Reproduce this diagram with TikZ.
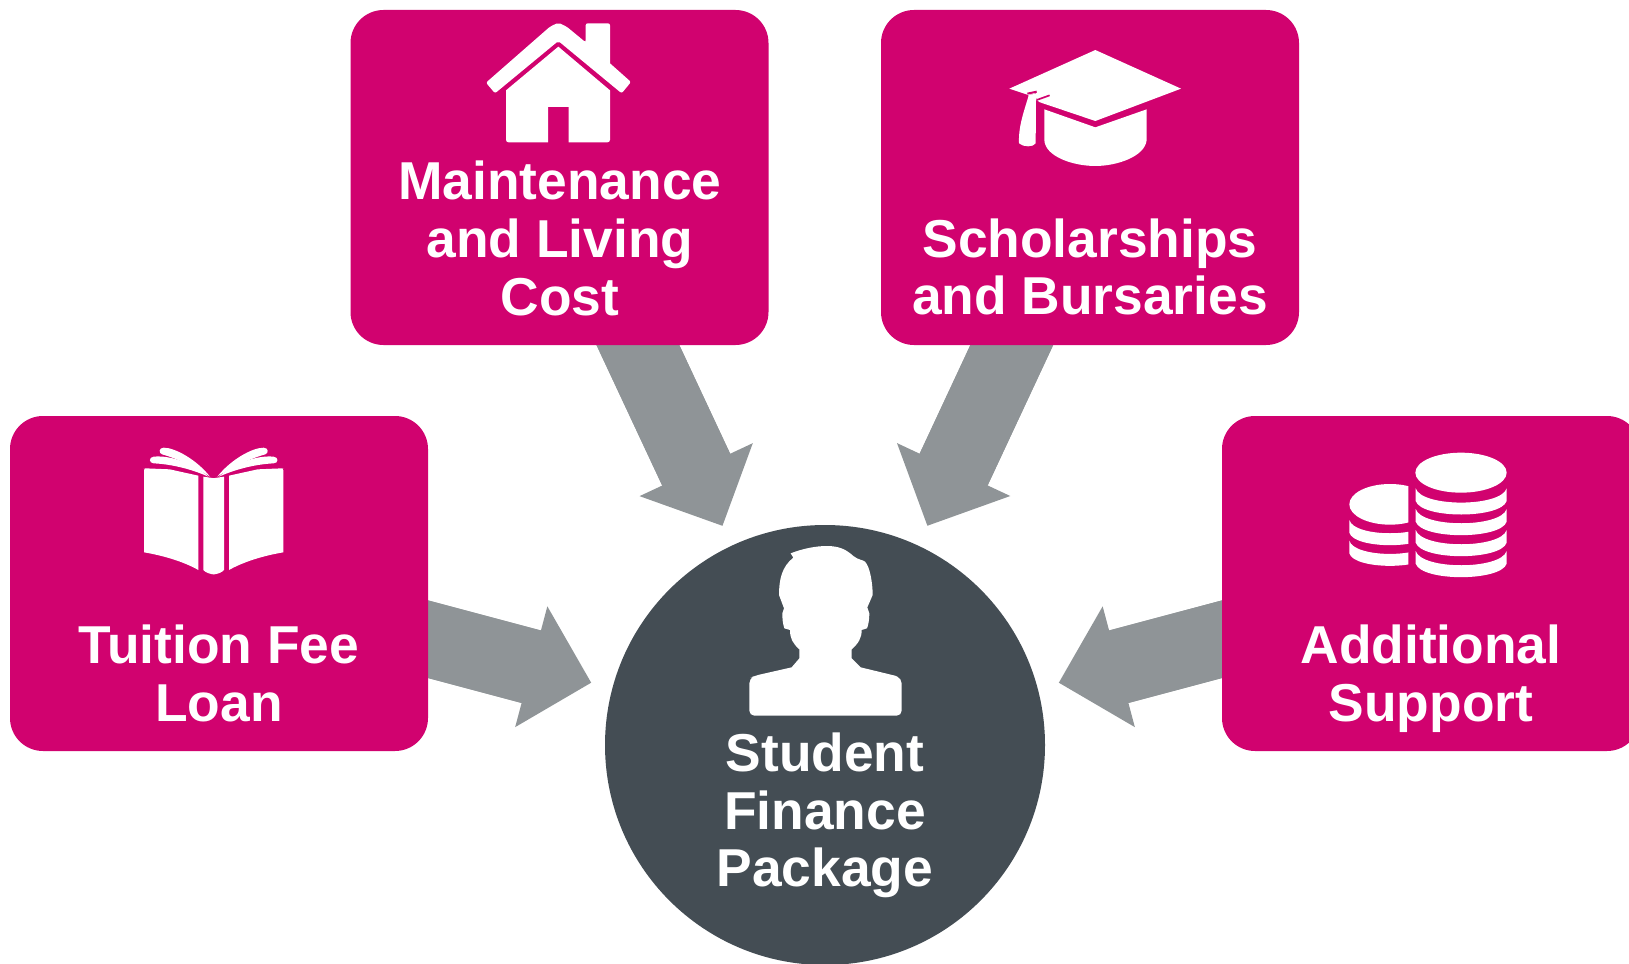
\documentclass[tikz,border=0pt]{standalone}
\usepackage{fontspec}
\setmainfont{Liberation Sans}
\usetikzlibrary{arrows.meta,backgrounds}
\definecolor{boxpink}{HTML}{D1026F}
\definecolor{slatedark}{HTML}{444D54}
\definecolor{arrowgrey}{HTML}{8F9497}
\tikzset{
  panel/.style={rectangle,rounded corners=33pt,fill=boxpink,minimum width=418pt,minimum height=335pt,inner sep=0pt},
  hub/.style={circle,fill=slatedark,minimum size=440pt,inner sep=0pt},
  caption/.style={text=white,font=\bfseries\fontsize{53.35}{57.7}\selectfont,align=center,inner sep=0pt},
  bigarrow/.style={draw=arrowgrey,line width=75pt,shorten >=242pt,-{Triangle[length=62pt,width=125pt,line width=0pt,sep=0pt]},
    postaction={draw=arrowgrey,line width=75pt,-,shorten >=298pt}},
  zoomed/.style={x=0.33333pt,y=-0.33333pt},
  icon/.style={fill=white,draw=none}
}
\begin{document}
\begin{tikzpicture}[x=1pt,y=-1pt]
\useasboundingbox (0,0) rectangle (1629,963);
\clip (0,0) rectangle (1629,963);
\node[panel] (maint) at (559.5,177.5) {};
\node[panel] (schol) at (1090,177.5) {};
\node[panel] (tuition) at (219,583.5) {};
\node[panel] (addsup) at (1431,583.5) {};
\node[hub] (finance) at (825,745) {};
\begin{scope}[on background layer]
  \fill[white] (0,0) rectangle (1629,963);
  \draw[bigarrow] (maint.center) -- (finance.center);
  \draw[bigarrow] (schol.center) -- (finance.center);
  \draw[bigarrow] (tuition.center) -- (finance.center);
  \draw[bigarrow] (addsup.center) -- (finance.center);
\end{scope}
\node[caption] (tmaint) at (560,238.5) {Maintenance\\and Living\\Cost};
\node[caption] (tschol) at (1090,267) {Scholarships\\and Bursaries};
\node[caption] (ttuition) at (219,673.5) {Tuition Fee\\Loan};
\node[caption] (taddsup) at (1431,679) {Additional\\Support};
\node[caption] (tfinance) at (825,815.5) {Student\\Finance\\Package};
% house
\begin{scope}[xshift=470pt,yshift=-10pt,zoomed]
  \fill[icon,rounded corners=2pt] (48,218) -- (240,50) -- (265,38) -- (290,50) -- (347,97) [sharp corners] -- (347,97) [rounded corners=2pt] -- (347,40) -- (420,40) -- (420,160) [sharp corners] -- (420,160) [rounded corners=2pt] -- (483,216) -- (455,250) -- (265,93) -- (75,250) -- cycle;
  \fill[icon] (108,241) -- (265,110) -- (420,241) [rounded corners=2.5pt] -- (420,397) [sharp corners] -- (296,397) -- (296,291) -- (234,291) -- (234,397) [rounded corners=2.5pt] -- (108,397) [sharp corners] -- cycle;
\end{scope}
% cap
\begin{scope}[xshift=1000pt,yshift=-40pt,zoomed]
  \fill[icon] (28,146) -- (286,30) -- (543,146) -- (286,243) -- (120,187) -- (109,180) -- (108,160) -- (85,165) -- cycle;
  \draw[boxpink,line width=2pt] (82,161) -- (110,155);
  \draw[boxpink,line width=1.7pt] (110,180) -- (149,166);
  \fill[icon] (85,165) -- (108,161) -- (107,310) .. controls (100,322) and (70,322) .. (57,310) .. controls (55,260) and (70,220) .. (85,170) -- cycle;
  \fill[icon] (133,208) -- (286,262) -- (440,208) -- (440,300) .. controls (435,350) and (350,378) .. (286,378) .. controls (220,378) and (135,350) .. (133,300) -- cycle;
\end{scope}
% book
\begin{scope}[xshift=213.67pt,yshift=-435pt,zoomed]
  \foreach \s in {1,-1}{
    \begin{scope}[xscale=\s]
      \fill[icon] (-46,122) -- (-132,103) [rounded corners=2pt] -- (-205,100) -- (-209,100) [sharp corners] -- (-209,352) .. controls (-150,362) and (-90,380) .. (-46,405) -- cycle;
      \fill[icon] (-11,125) .. controls (-50,75) and (-115,38) .. (-150,38) .. controls (-165,38) and (-165,55) .. (-155,58) .. controls (-110,70) and (-50,100) .. (-11,125) -- cycle;
      \fill[icon] (-16,125) .. controls (-60,85) and (-130,60) .. (-180,65) .. controls (-195,66) and (-195,85) .. (-180,85) .. controls (-120,88) and (-60,105) .. (-16,125) -- cycle;
      \fill[icon] (-31,125) -- (3,130) -- (3,418) .. controls (-12,418) and (-25,412) .. (-31,405) -- cycle;
    \end{scope}
  }
\end{scope}
% coins
\begin{scope}[xshift=1340pt,yshift=-440pt,zoomed]
  \fill[icon] (363,98) ellipse [x radius=137pt/3,y radius=60pt/3];
  \foreach \y in {145,207,270,333}{
    \fill[icon] (227,\y) .. controls (245,\y+57) and (482,\y+57) .. (500,\y) -- (500,\y+38) .. controls (482,\y+92) and (245,\y+92) .. (227,\y+38) -- cycle;
  }
  \begin{scope}
    \clip (0,0) rectangle (205,450);
    \fill[icon] (150,193) ellipse [x radius=122pt/3,y radius=61pt/3];
    \foreach \y in {240,302}{
      \fill[icon] (28,\y) .. controls (42,\y+53) and (258,\y+53) .. (272,\y) -- (272,\y+38) .. controls (258,\y+88) and (42,\y+88) .. (28,\y+38) -- cycle;
    }
  \end{scope}
\end{scope}
% person
\begin{scope}[xshift=730pt,yshift=-530pt,zoomed]
  \fill[icon] (182,70) .. controls (220,55) and (260,48) .. (290,48) .. controls (330,48) and (350,60) .. (370,78) .. controls (385,90) and (400,90) .. (405,95) .. controls (420,110) and (428,160) .. (428,195) -- (412,232) -- (418,250) .. controls (418,270) and (415,285) .. (411,295) -- (395,300) .. controls (395,325) and (385,340) .. (365,358) -- (365,385) -- (392,412) -- (495,437) [rounded corners=5pt] -- (515,445) -- (515,557) -- (58,557) -- (58,445) -- (75,437) [sharp corners] -- (185,412) -- (208,385) -- (208,358) .. controls (188,340) and (180,325) .. (180,300) -- (163,295) .. controls (158,280) and (157,265) .. (157,250) -- (162,235) -- (147,195) .. controls (147,150) and (155,110) .. (190,83) -- cycle;
\end{scope}
\end{tikzpicture}
\end{document}
